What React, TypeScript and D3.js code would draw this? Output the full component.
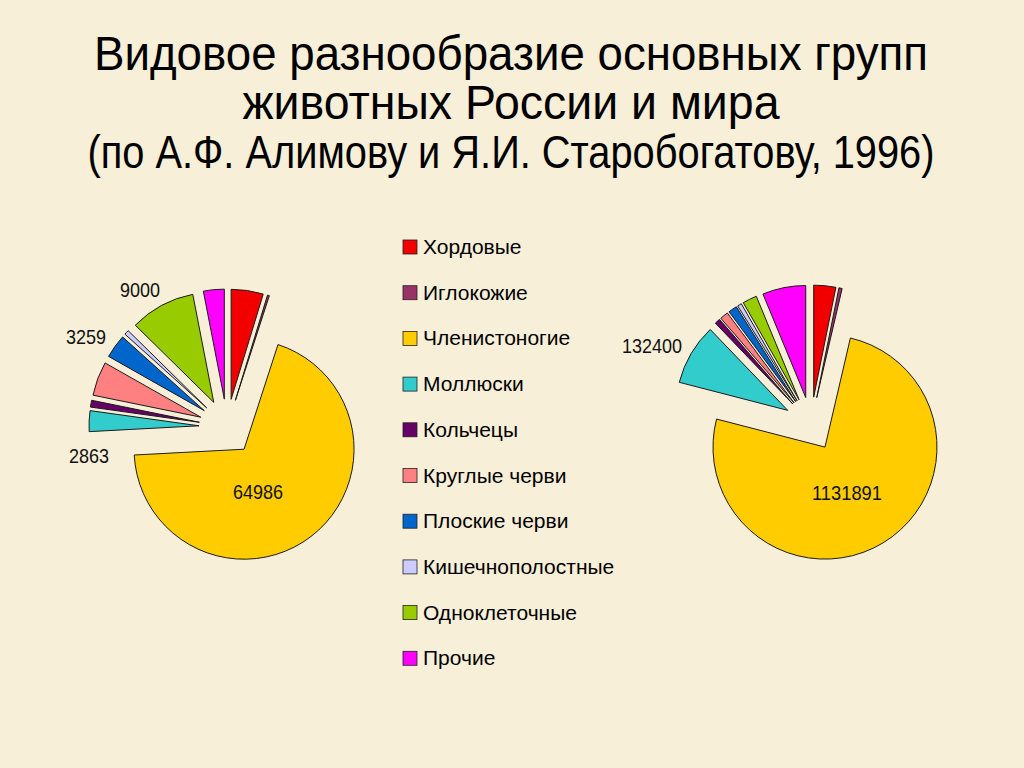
/**
 * Видовое разнообразие основных групп животных России и мира
 * два круга с выдвинутыми секторами + общая легенда посередине
 */

import { useEffect, useRef } from "react";
import * as d3 from "d3";

const W = 1024;
const H = 768;
const BG = "#f7efd7";
const FONT = "'Liberation Sans', Arial, sans-serif";
const NARROW = "'Liberation Sans Narrow', 'Liberation Sans', Arial, sans-serif";

// ===== данные =====
const GROUPS = [
  "Хордовые",
  "Иглокожие",
  "Членистоногие",
  "Моллюски",
  "Кольчецы",
  "Круглые черви",
  "Плоские черви",
  "Кишечнополостные",
  "Одноклеточные",
  "Прочие",
];

const COLORS = [
  "#f20000",
  "#993366",
  "#ffcc00",
  "#33cccc",
  "#660066",
  "#ff8080",
  "#0066cc",
  "#ccccff",
  "#99cc00",
  "#ff00ff",
];

// Россия
const RUSSIA = [4430, 260, 64986, 2863, 940, 4700, 3259, 650, 9000, 2870];
// мир
const WORLD = [47700, 7000, 1131891, 132400, 12000, 18000, 18800, 9000, 31000, 93700];

// какие секторы подписаны
const RUSSIA_LABELED = [8, 6, 3, 2];
const WORLD_LABELED = [3, 2];

const TITLE_LINES = [
  "Видовое разнообразие основных групп",
  "животных России и мира",
  "(по А.Ф. Алимову и Я.И. Старобогатову, 1996)",
];

// раскладка
const PIES = [
  {
    values: RUSSIA,
    labeled: RUSSIA_LABELED,
    cx: 227,
    cy: 427,
    r: 110,
    explode: 28,
    // угол (град) и радиус подписи для каждого подписанного сектора
    labelPos: [
      [327.7, 162.7],
      [302.7, 167.5],
      [258.3, 140.9],
      [154.3, 71.6],
    ],
  },
  {
    values: WORLD,
    labeled: WORLD_LABELED,
    cx: 811,
    cy: 424,
    r: 112,
    explode: 27,
    labelPos: [
      [296.3, 177.3],
      [152.3, 77.4],
    ],
  },
];

const TITLE_Y = [70, 119, 168];
const TITLE_W = [834, 537, 847];
const TITLE_X = 511;

const LEG_X = 403;
const LEG_Y0 = 254;
const LEG_STEP = 45.7;
const LEG_BOX = 14;

export default function App() {
  const svgRef = useRef<SVGSVGElement>(null);

  useEffect(() => {
    if (!svgRef.current) return;
    const svg = d3.select(svgRef.current);
    svg.selectAll("*").remove();

    svg.append("rect").attr("width", W).attr("height", H).attr("fill", BG);

    // заголовок
    TITLE_LINES.forEach((t, i) => {
      svg.append("text")
        .attr("x", TITLE_X).attr("y", TITLE_Y[i])
        .attr("text-anchor", "middle")
        .attr("font-family", NARROW)
        .attr("font-size", i < 2 ? 48 : 46)
        .attr("textLength", TITLE_W[i])
        .attr("lengthAdjust", "spacingAndGlyphs")
        .attr("fill", "#000")
        .text(t);
    });

    const pie = d3.pie<number>().sort(null).value((d) => d);

    PIES.forEach((p) => {
      const g = svg.append("g").attr("transform", `translate(${p.cx},${p.cy})`);
      const arcs = pie(p.values);
      const arc = d3.arc<d3.PieArcDatum<number>>().innerRadius(0).outerRadius(p.r);

      arcs.forEach((a, i) => {
        const mid = (a.startAngle + a.endAngle) / 2;
        const dx = Math.sin(mid) * p.explode;
        const dy = -Math.cos(mid) * p.explode;
        g.append("path")
          .attr("d", arc(a) as string)
          .attr("transform", `translate(${dx},${dy})`)
          .attr("fill", COLORS[i])
          .attr("stroke", "#1a1a1a")
          .attr("stroke-width", 1)
          .attr("stroke-linejoin", "round");
      });

      // подписи
      p.labeled.forEach((idx, k) => {
        const [deg, lr] = p.labelPos[k];
        const ang = (deg * Math.PI) / 180;
        const txt = String(p.values[idx]);
        g.append("text")
          .attr("x", Math.sin(ang) * lr)
          .attr("y", -Math.cos(ang) * lr)
          .attr("dy", "0.36em")
          .attr("text-anchor", "middle")
          .attr("font-family", FONT)
          .attr("font-size", 21)
          .attr("textLength", txt.length * 10)
          .attr("lengthAdjust", "spacingAndGlyphs")
          .attr("fill", "#111")
          .text(txt);
      });
    });

    // легенда
    const leg = svg.append("g");
    GROUPS.forEach((name, i) => {
      const y = LEG_Y0 + i * LEG_STEP;
      leg.append("rect")
        .attr("x", LEG_X).attr("y", y - LEG_BOX)
        .attr("width", LEG_BOX).attr("height", LEG_BOX)
        .attr("fill", COLORS[i])
        .attr("stroke", "#222").attr("stroke-width", 0.8);
      leg.append("text")
        .attr("x", LEG_X + LEG_BOX + 6).attr("y", y)
        .attr("font-family", FONT).attr("font-size", 21)
        .attr("fill", "#000")
        .text(name);
    });
  }, []);

  return (
    <svg
      ref={svgRef}
      width={W}
      height={H}
      viewBox={`0 0 ${W} ${H}`}
      style={{ position: "absolute", left: 0, top: 0, display: "block" }}
    />
  );
}
